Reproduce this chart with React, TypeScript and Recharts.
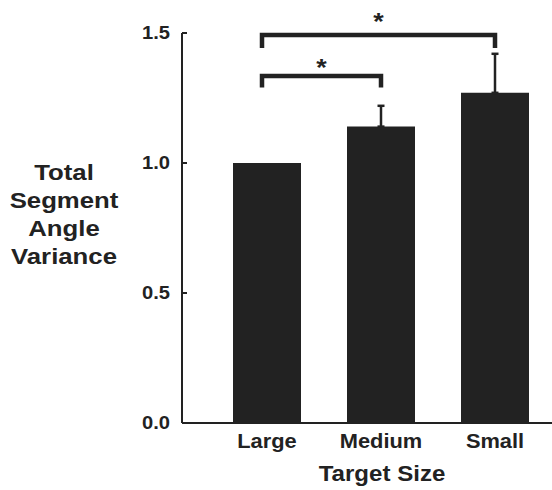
import { BarChart, Bar, XAxis, YAxis, ErrorBar, ReferenceLine } from "recharts";

const sizes = ["Large", "Medium", "Small"];
const variance = [1.0, 1.14, 1.27];
const errUp = [0, 0.08, 0.15];
const yTicks = [0, 0.5, 1.0, 1.5];

// significance brackets: from / to category, leg bottom and bar height
const bracketFrom = ["Large", "Large"];
const bracketTo = ["Medium", "Small"];
const bracketLow = [1.29, 1.442];
const bracketHigh = [1.335, 1.492];
const starLift = [13, 18];

const data = sizes.map((s, i) => ({
  size: s,
  value: variance[i],
  err: errUp[i] > 0 ? [0, errUp[i]] : null,
}));

const ink = "#222";
const font = "'Liberation Sans', Arial, sans-serif";
const sx = 1.12; // the reference type is a little wide

const Txt = ({ x, y, size, anchor = "middle", dy = 0, children }: any) => (
  <text
    transform={`translate(${x},${y}) scale(${sx},1)`}
    dy={dy}
    textAnchor={anchor}
    fill={ink}
    fontSize={size}
    fontWeight="bold"
    fontFamily={font}
  >
    {children}
  </text>
);

const YTick = (props: any) => {
  const { x, y, payload } = props;
  return (
    <g>
      <Txt x={x} y={y} size={18} anchor="end" dy="0.36em">
        {payload.value.toFixed(1)}
      </Txt>
      <line x1={x + 12} x2={x + 17} y1={y} y2={y} stroke={ink} strokeWidth={2} />
    </g>
  );
};

const XTick = (props: any) => {
  const { x, y, payload } = props;
  return (
    <Txt x={x} y={y + 17} size={19.5}>
      {payload.value}
    </Txt>
  );
};

const YLabel = (props: any) => {
  const { viewBox } = props;
  const lines = ["Total", "Segment", "Angle", "Variance"];
  return (
    <g>
      {lines.map((l, i) => (
        <Txt key={l} x={viewBox.x + 64} y={180 + i * 28} size={23}>
          {l}
        </Txt>
      ))}
    </g>
  );
};

const XLabel = (props: any) => {
  const { viewBox } = props;
  return (
    <Txt x={viewBox.x + 200} y={481} size={21.5}>
      Target Size
    </Txt>
  );
};

const bracketShape = (lift: number) => (p: any) => {
  const { x1, y1, x2, y2 } = p;
  const left = x1 - 5;
  const d = `M${left},${y1} V${y2} H${x2} V${y1}`;
  return (
    <g>
      <path d={d} fill="none" stroke={ink} strokeWidth={4.5} />
      <Txt x={(left + x2) / 2} y={y2 - lift} size={24} dy="0.55em">
        *
      </Txt>
    </g>
  );
};

export default function App() {
  return (
    <div style={{ position: "absolute", left: 0, top: 0, background: "#fff" }}>
      <BarChart width={552} height={490} data={data} margin={{ top: 33, right: 0, bottom: 0, left: 0 }}>
        <XAxis
          dataKey="size"
          height={67}
          padding={{ left: 28, right: 0 }}
          axisLine={{ stroke: ink, strokeWidth: 2 }}
          tickLine={false}
          tick={<XTick />}
          label={{ content: <XLabel /> }}
        />
        <YAxis
          width={182}
          domain={[0, 1.5]}
          ticks={yTicks}
          axisLine={{ stroke: ink, strokeWidth: 2 }}
          tickLine={false}
          tickSize={0}
          tickMargin={12}
          tick={<YTick />}
          label={{ content: <YLabel /> }}
        />
        <Bar dataKey="value" fill={ink} barSize={68} isAnimationActive={false}>
          <ErrorBar dataKey="err" width={3.5} stroke={ink} strokeWidth={2.5} direction="y" />
        </Bar>
        {bracketFrom.map((f, i) => (
          <ReferenceLine
            key={i}
            segment={[{ x: f, y: bracketLow[i] }, { x: bracketTo[i], y: bracketHigh[i] }]}
            ifOverflow="visible"
            shape={bracketShape(starLift[i])}
          />
        ))}
      </BarChart>
    </div>
  );
}
